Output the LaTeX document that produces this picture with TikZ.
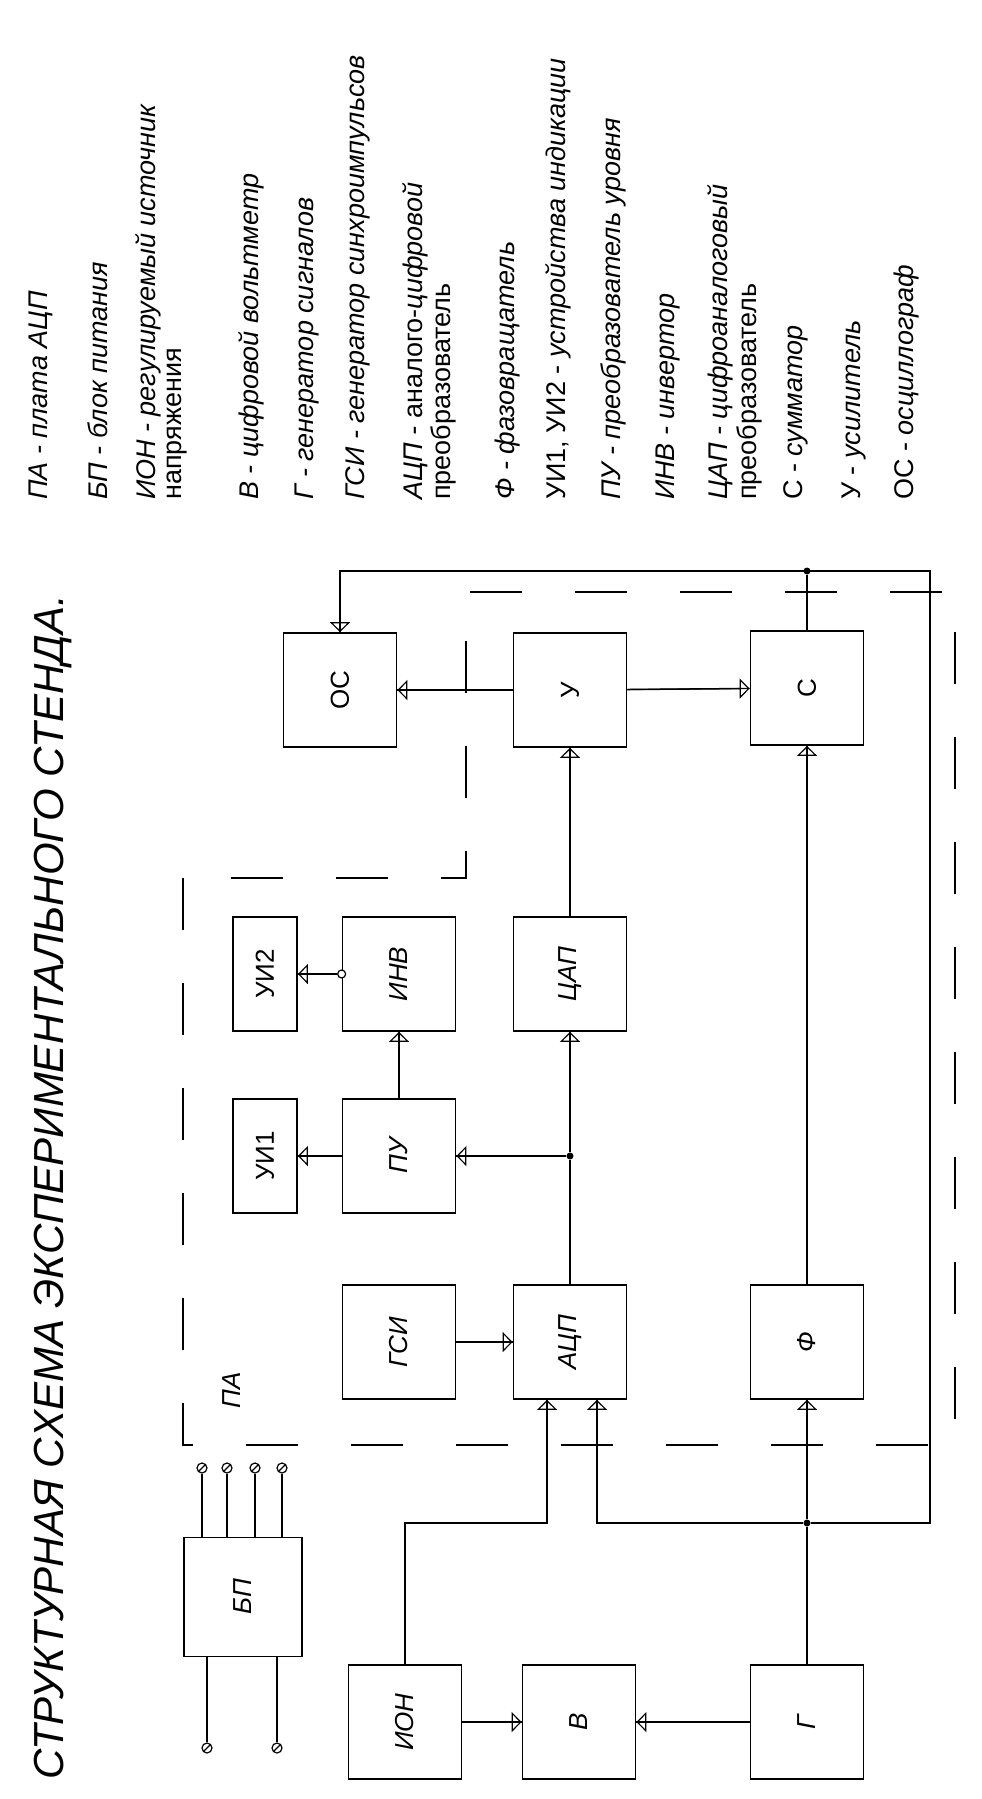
\documentclass[tikz,border=0pt]{standalone}
\usepackage{fontspec}
\usepackage{graphicx}
\setmainfont{Liberation Sans}
\usetikzlibrary{arrows.meta}

\tikzset{
    blk/.style={draw, line width=1.7pt, minimum width=113pt, minimum height=114pt,
        inner sep=0pt, font=\fontsize{26}{30}\selectfont\itshape},
    ublk/.style={blk, font=\fontsize{26}{30}\selectfont\upshape},
    con/.style={line width=1.5pt},
    arr/.style={con, -{Triangle[open, length=10pt, width=20pt, line width=1.2pt]},
        postaction={draw, -, line width=1.2pt}},
    dot/.style={circle, fill, inner sep=0pt, minimum size=7pt},
    bubble/.style={circle, draw, fill=white, line width=1.2pt, inner sep=0pt, minimum size=8pt},
    terminal/.style={circle, draw, line width=1.2pt, inner sep=0pt, minimum size=10pt,
        path picture={\draw[line width=1.2pt] (path picture bounding box.south west)
            -- (path picture bounding box.north east);}},
    board/.style={line width=1.5pt, dash pattern=on 52pt off 53pt},
    legend/.style={rotate=90, anchor=base west, inner sep=0pt, font=\fontsize{27}{31}\selectfont}
}
\newcommand{\rt}[1]{\rotatebox{90}{#1}}

\begin{document}
\begin{tikzpicture}[x=1pt, y=-1pt]
    \useasboundingbox (0,0) rectangle (982,1799);

    % заголовок
    \node[legend, font=\fontsize{42}{48}\selectfont\itshape] (title) at (63,1780)
        {СТРУКТУРНАЯ СХЕМА ЭКСПЕРИМЕНТАЛЬНОГО СТЕНДА.};

    % пояснения
    \foreach \bx/\txt in {47/{\textit{ПА - плата АЦП}},
            107/{\textit{БП - блок питания}},
            155/{\textit{ИОН - регулируемый источник}},
            181/{напряжения},
            258/{\textit{В - цифровой вольтметр}},
            313/{\textit{Г - генератор сигналов}},
            364/{\textit{ГСИ - генератор синхроимпульсов}},
            422/{\textit{АЦП -} аналого-\textit{цифровой}},
            450/{преобразователь},
            514/{\textit{Ф - фазовращатель}},
            565/{УИ1, УИ2 - \textit{устройства индикации}},
            620/{\textit{ПУ - преобразователь уровня}},
            674/{\textit{ИНВ - инвертор}},
            727/{\textit{ЦАП - цифроаналоговый}},
            756/{преобразователь},
            802/{С - \textit{сумматор}},
            860/{У - \textit{усилитель}},
            913/{ОС - \textit{осциллограф}}}
        \node[legend] (leg\bx) at (\bx,500) {\txt};

    % блоки
    \node[blk] (ion) at (405,1722) {\rt{ИОН}};
    \node[blk] (v)   at (579,1722) {\rt{В}};
    \node[blk] (g)   at (807,1722) {\rt{Г}};
    \node[blk, minimum width=118pt, minimum height=119pt] (bp) at (243,1597) {\rt{БП}};
    \node[blk] (gsi) at (399,1342) {\rt{ГСИ}};
    \node[blk] (adc) at (570,1342) {\rt{АЦП}};
    \node[blk] (f)   at (807,1342) {\rt{Ф}};
    \node[ublk, minimum width=64pt] (ui1) at (265,1156) {\rt{УИ1}};
    \node[blk] (pu)  at (399,1156) {\rt{ПУ}};
    \node[ublk, minimum width=64pt] (ui2) at (265,974) {\rt{УИ2}};
    \node[blk] (inv) at (399,974) {\rt{ИНВ}};
    \node[blk] (dac) at (570,974) {\rt{ЦАП}};
    \node[ublk] (os) at (340,690) {\rt{ОС}};
    \node[ublk] (u)  at (570,690) {\rt{У}};
    \node[ublk] (s)  at (807,688) {\rt{С}};
    \node[font=\fontsize{26}{30}\selectfont\itshape] (pa) at (232,1390) {\rt{ПА}};

    % плата АЦП
    \draw[board] (183,878) -- (183,1445) -- (955,1445) -- (955,592)
        -- (466,592) -- (466,878) -- cycle;

    % узлы
    \node[dot] (jg) at (807,1523) {};
    \node[dot] (ja) at (570,1156) {};
    \node[dot] (js) at (807,571) {};
    \node[bubble] (nb) at (inv.west) {};
    \coordinate (fb) at (930,571);
    \coordinate (in1) at ([xshift=-23pt]adc.south);
    \coordinate (in2) at ([xshift=27pt]adc.south);

    % связи
    \draw[arr] (ion) -- (v);
    \draw[arr] (g) -- (v);
    \draw[con] (g) -- (jg);
    \draw[arr] (jg) -- (f);
    \draw[arr] (jg) -| (in2);
    \draw[arr] (ion) |- (in1 |- jg) -- (in1);
    \draw[arr] (jg) -| (fb) -| (os);
    \draw[con] (s) -- (js);
    \draw[arr] (f) -- (s);
    \draw[arr] (gsi) -- (adc);
    \draw[con] (adc) -- (ja);
    \draw[arr] (ja) -- (dac);
    \draw[arr] (ja) -- (pu);
    \draw[arr] (pu) -- (ui1);
    \draw[arr] (pu) -- (inv);
    \draw[arr] (nb) -- (ui2);
    \draw[arr] (dac) -- (u);
    \draw[arr] (u) -- (os);
    \draw[arr] (u) -- (s);

    % клеммы БП
    \foreach \i/\x in {1/202, 2/227, 3/255, 4/282} {
        \node[terminal] (tt\i) at (\x,1468) {};
        \draw[con] (tt\i) -- (tt\i |- bp.north);
    }
    \foreach \i/\x in {1/207, 2/277} {
        \node[terminal] (tb\i) at (\x,1748) {};
        \draw[con] (tb\i) -- (tb\i |- bp.south);
    }
\end{tikzpicture}
\end{document}
